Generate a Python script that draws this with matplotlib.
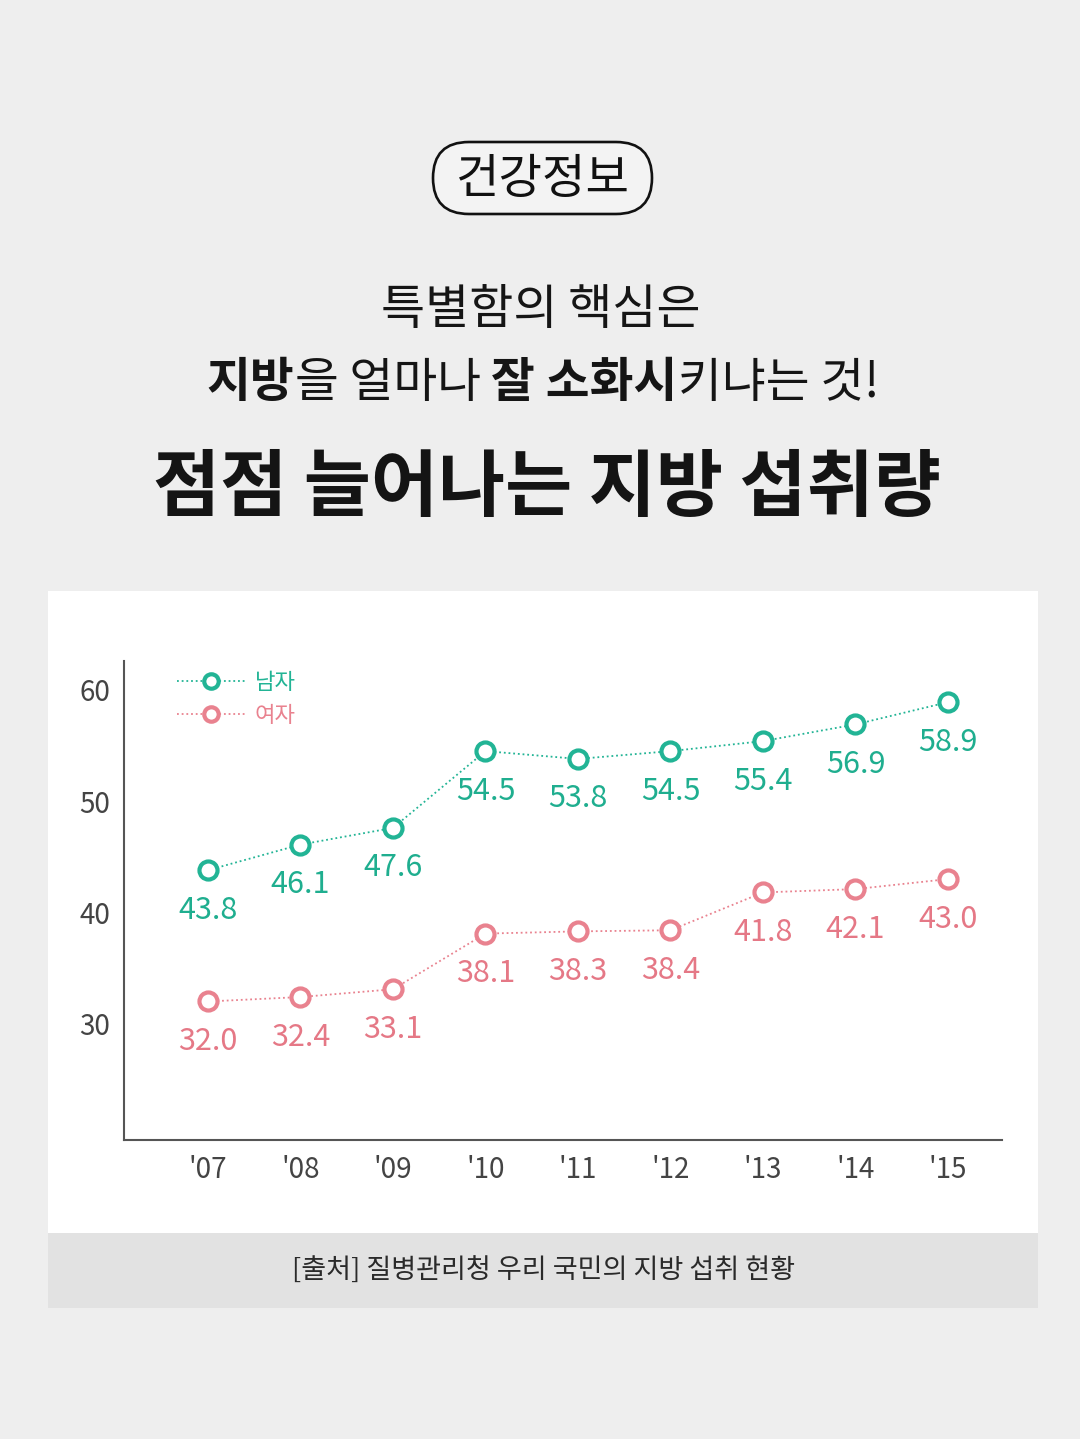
import matplotlib
matplotlib.use("Agg")
import matplotlib.pyplot as plt
from matplotlib.patches import FancyBboxPatch, Rectangle

plt.rcParams['font.family'] = ['Noto Sans CJK KR', 'DejaVu Sans']

# ---- data ----
years = ["'07", "'08", "'09", "'10", "'11", "'12", "'13", "'14", "'15"]
men = [43.8, 46.1, 47.6, 54.5, 53.8, 54.5, 55.4, 56.9, 58.9]
women = [32.0, 32.4, 33.1, 38.1, 38.3, 38.4, 41.8, 42.1, 43.0]
yticks = [30, 40, 50, 60]
series_names = ["남자", "여자"]

badge = "건강정보"
line1 = "특별함의 핵심은"
line2_parts = [("지방", "bold"), ("을 얼마나 ", "normal"), ("잘 소화시", "bold"), ("키냐는 것!", "normal")]
title = "점점 늘어나는 지방 섭취량"
source = "[출처] 질병관리청 우리 국민의 지방 섭취 현황"

GREEN = "#22b495"
PINK = "#e9828f"
BG = "#eeeeee"

W, H = 1080, 1439
fig = plt.figure(figsize=(W / 100, H / 100), dpi=100)
fig.patch.set_facecolor(BG)

# background overlay axes in pixel coordinates
bg = fig.add_axes([0, 0, 1, 1], zorder=0)
bg.set_xlim(0, W)
bg.set_ylim(H, 0)
bg.axis('off')

# panel and footer
bg.add_patch(Rectangle((48, 591), 990, 642, facecolor="white", edgecolor="none"))
bg.add_patch(Rectangle((48, 1233), 990, 75, facecolor="#e2e2e2", edgecolor="none"))
bg.text(543, 1271, source, ha='center', va='center', fontsize=19.5, color="#2a2a2a")

# badge
bg.add_patch(FancyBboxPatch((433, 142), 219, 72, boxstyle="round,pad=0,rounding_size=36",
                            facecolor="#f3f3f3", edgecolor="#111111", linewidth=1.9))
bg.text(543, 180, badge, ha='center', va='center', fontsize=34, color="#111111")

# headline lines
bg.text(541, 310, line1, ha='center', va='center', fontsize=34.5, color="#151515")
bg.text(547, 489, title, ha='center', va='center', fontsize=52.5,
        fontweight='heavy', color="#141414")

renderer = fig.canvas.get_renderer()
pieces = []
for txt, wt in line2_parts:
    t = bg.text(0, 383, txt, ha='left', va='center', fontsize=34.3, fontweight=wt, color="#151515")
    pieces.append(t)
widths = [p.get_window_extent(renderer).width for p in pieces]
x = 543 - sum(widths) / 2
for p, w in zip(pieces, widths):
    p.set_x(x)
    x += w

# ---- chart ----
ax = fig.add_axes([124 / W, 1 - 1140 / H, (1002 - 124) / W, (1140 - 661) / H], zorder=2)
ax.patch.set_alpha(0)
xs = list(range(len(years)))
mk = dict(marker='o', markersize=13, markerfacecolor='white', markeredgewidth=3.0)
ax.plot(xs, men, color=GREEN, linestyle=(0, (1, 1.6)), linewidth=1.3, markeredgecolor=GREEN,
        label=series_names[0], **mk)
ax.plot(xs, women, color=PINK, linestyle=(0, (1, 1.6)), linewidth=1.3, markeredgecolor=PINK,
        label=series_names[1], **mk)

for xi, v in zip(xs, men):
    ax.annotate(f"{v:.1f}", (xi, v), xytext=(0, -40), textcoords='offset pixels',
                ha='center', va='center', fontsize=22, color="#1fae8f")
for xi, v in zip(xs, women):
    ax.annotate(f"{v:.1f}", (xi, v), xytext=(0, -40), textcoords='offset pixels',
                ha='center', va='center', fontsize=22, color="#e57886")

ax.set_xlim(-0.908, 8.584)
ax.set_ylim(19.55, 62.6)
ax.set_yticks(yticks)
ax.set_xticks(xs)
ax.set_xticklabels(years)
ax.tick_params(axis='both', length=0, labelsize=20, labelcolor="#444444")
ax.tick_params(axis='y', pad=10)
ax.tick_params(axis='x', pad=11)
for s in ['top', 'right']:
    ax.spines[s].set_visible(False)
for s in ['left', 'bottom']:
    ax.spines[s].set_color("#555555")
    ax.spines[s].set_linewidth(1.5)

leg = ax.legend(loc='upper left', bbox_to_anchor=(0.05, 0.998), frameon=False, fontsize=16,
                markerscale=0.8, handlelength=3.1, handletextpad=0.4, labelspacing=0.45,
                borderaxespad=0, labelcolor='linecolor')

fig.savefig("out.png", dpi=100, facecolor=BG)
